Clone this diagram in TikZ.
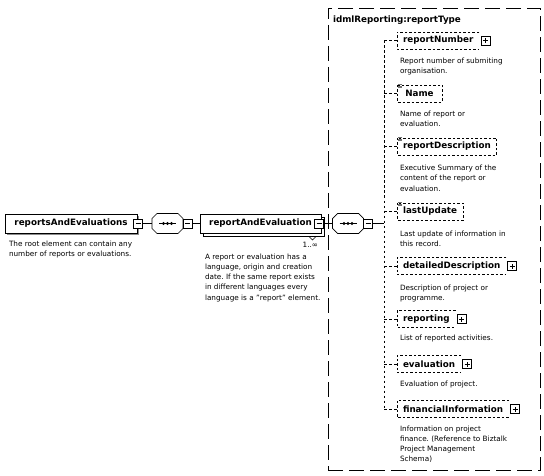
\documentclass[tikz,border=0pt]{standalone}
\usepackage{fontspec}
\setmainfont{DejaVu Sans}
\usetikzlibrary{backgrounds}
\frenchspacing
\newcommand\drawcompo[1]{%
  \draw[fill=white, line width=0.7bp] ([xshift=5bp]#1.north west) -- ([xshift=-5bp]#1.north east) -- ([yshift=-5bp]#1.north east) -- ([yshift=5bp]#1.south east) -- ([xshift=-5bp]#1.south east) -- ([xshift=5bp]#1.south west) -- ([yshift=5bp]#1.south west) -- ([yshift=-5bp]#1.north west) -- cycle;
  \draw[line width=0.7bp] ([xshift=7bp]#1.west) -- ([xshift=-7bp]#1.east);
  \foreach \dx in {-4,0,4} \fill ([xshift=\dx bp]#1.center) circle[radius=1.6bp];
}
\begin{document}
\begin{tikzpicture}[x=1bp,y=-1bp,
  every node/.style={inner sep=0pt,outer sep=0pt},
  ename/.style={font=\fontsize{8.8}{10}\selectfont\bfseries},
  desc/.style={font=\fontsize{7.3}{10.3}\selectfont, align=left, anchor=north west},
  elbox/.style={ename, draw, fill=white, line width=0.7bp, minimum height=19bp},
  minusbox/.style={draw, fill=white, line width=0.6bp, minimum size=9bp,
    path picture={\draw[line width=0.6bp] ([xshift=2bp]path picture bounding box.west) -- ([xshift=-2bp]path picture bounding box.east);}},
  plusbox/.style={draw, fill=white, line width=0.6bp, minimum size=9bp,
    path picture={\draw[line width=0.6bp] ([xshift=2bp]path picture bounding box.west) -- ([xshift=-2bp]path picture bounding box.east);
      \draw[line width=0.6bp] ([yshift=2bp]path picture bounding box.south) -- ([yshift=-2bp]path picture bounding box.north);}},
  cbox/.style={minimum width=31bp, minimum height=20bp},
  kidbox/.style={ename, minimum height=17bp, inner xsep=6bp},
  cdash/.style={line width=0.6bp, dash pattern=on 2.5bp off 2bp},
  busline/.style={line width=0.6bp, dash pattern=on 2.5bp off 2.5bp},
  outerbox/.style={draw, line width=0.8bp, dash pattern=on 15bp off 6bp},
  conn/.style={line width=0.7bp},
  smallicon/.style={line width=0.5bp, black!55},
]
\useasboundingbox (0,0) rectangle (544,476);

% outer type box
\node[outerbox, minimum width=212bp, minimum height=462bp, anchor=north west] (outer) at (328,8) {};
\node[ename, anchor=west] (title) at (333,20) {idmlReporting:reportType};

% root element
\node[elbox, minimum width=132bp] (e1) at (71,223.5) {reportsAndEvaluations};
\begin{scope}[on background layer]
  \fill[black!45] ([shift={(2,2)}]e1.north west) rectangle ([shift={(2,2)}]e1.south east);
\end{scope}
\node[minusbox] (m1) at (138,223.5) {};
\node[desc] (d1) at (9,240.5) {The root element can contain any\\number of reports or evaluations.};

% first sequence
\node[cbox] (c1) at (167.5,223.5) {};
\drawcompo{c1}
\node[minusbox, anchor=west] (cm1) at (c1.east) {};

% reportAndEvaluation (multiple)
\node[elbox, minimum width=121bp] (e2) at (260.5,223.5) {reportAndEvaluation};
\begin{scope}[on background layer]
  \draw[fill=white, line width=0.7bp] ([shift={(3,3)}]e2.north west) rectangle ([shift={(3,3)}]e2.south east);
\end{scope}
\draw[line width=0.5bp] (309,236.5) -- (316,236.5) -- (312.5,240) -- cycle;
\node[minusbox] (m3) at (319,223.5) {};
\node[font=\fontsize{7.3}{9}\selectfont, anchor=east] (mult) at (318,245) {1..∞};
\node[desc] (d2) at (205,253.5) {A report or evaluation has a\\language, origin and creation\\date. If the same report exists\\in different languages every\\language is a "report" element.};

% second sequence
\node[cbox] (c2) at (348,223.5) {};
\drawcompo{c2}
\node[minusbox, anchor=west] (cm2) at (c2.east) {};
\coordinate (bj) at (384,223.5);

% children
\node[kidbox, anchor=west] (k1) at (397,40.5) {reportNumber};
\node[kidbox, anchor=west, minimum width=45bp] (k2) at (397,93.5) {Name};
\node[kidbox, anchor=west] (k3) at (397,146.5) {reportDescription};
\node[kidbox, anchor=west] (k4) at (397,211.5) {lastUpdate};
\node[kidbox, anchor=west] (k5) at (397,266) {detailedDescription};
\node[kidbox, anchor=west] (k6) at (397,319) {reporting};
\node[kidbox, anchor=west] (k7) at (397,364) {evaluation};
\node[kidbox, anchor=west] (k8) at (397,409) {financialInformation};

\foreach \k in {k1,k5,k6,k7,k8} {
  \draw[cdash] (\k.north east) -- (\k.north west) -- (\k.south west) -- (\k.south east);
  \node[plusbox] (\k p) at ([xshift=6bp]\k.east) {};
}
\foreach \k in {k2,k3,k4} {
  \draw[cdash] (\k.north west) rectangle (\k.south east);
  \foreach \dy in {-1,0.8,2.6} \draw[smallicon] ([shift={(1,\dy)}]\k.north west) -- ++(4,0);
}

% descriptions of children
\node[desc] (dk1) at (400,57.5) {Report number of submiting\\organisation.};
\node[desc] (dk2) at (400,110.5) {Name of report or\\evaluation.};
\node[desc] (dk3) at (400,165) {Executive Summary of the\\content of the report or\\evaluation.};
\node[desc] (dk4) at (400,230.5) {Last update of information in\\this record.};
\node[desc] (dk5) at (400,284.5) {Description of project or\\programme.};
\node[desc] (dk6) at (400,334.5) {List of reported activities.};
\node[desc] (dk7) at (400,380.5) {Evaluation of project.};
\node[desc] (dk8) at (400,425.5) {Information on project\\finance. (Reference to Biztalk\\Project Management\\Schema)};

% connectors
\draw[conn] (m1.east) -- (c1.west);
\draw[conn] (cm1.east) -- (e2.west);
\draw[conn] (m3.east) -- (c2.west);
\draw[conn] (cm2.east) -- (bj);
\draw[busline] (k1.west -| bj) -- (k8.west -| bj);
\foreach \k in {k1,k2,k3,k4,k5,k6,k7,k8}
  \draw[busline] (\k.west -| bj) -- (\k.west);
\end{tikzpicture}
\end{document}
